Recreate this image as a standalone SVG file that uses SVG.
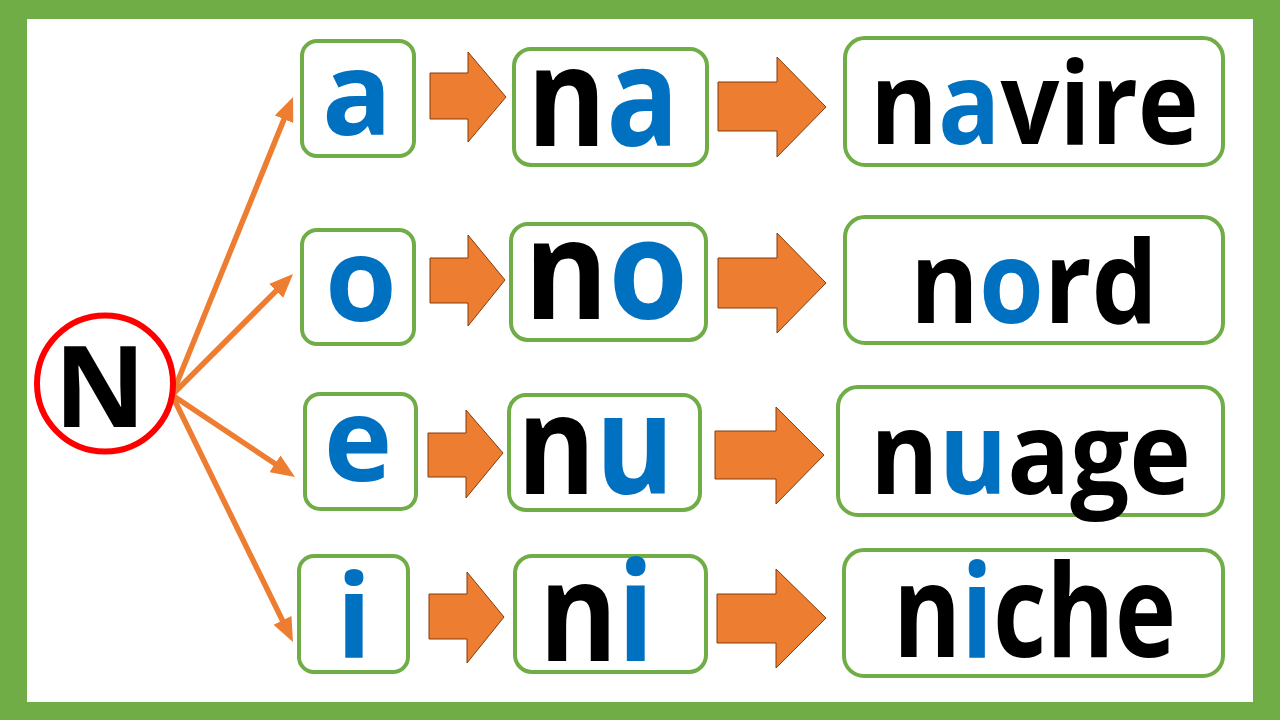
<svg xmlns="http://www.w3.org/2000/svg" width="1280" height="720" viewBox="0 0 1280 720">
  <style>
    .box { fill: #FFFFFF; stroke: #70AD47; stroke-width: 4; }
    .blk { fill: #ED7D31; stroke: #843C0C; stroke-width: 1; stroke-linejoin: miter; }
    .con { stroke: #ED7D31; stroke-width: 5.5; fill: none; }
    .t { font-family: "Open Sans", "Noto Sans", "Liberation Sans", sans-serif; font-weight: 700; fill: #000000; }
    .b { fill: #0070C0; }
  </style>
  <defs>
    <marker id="ah" viewBox="0 0 24 20" refX="9" refY="10" markerWidth="24" markerHeight="20" markerUnits="userSpaceOnUse" orient="auto">
      <path d="M0,0 L24,10 L0,20 Z" fill="#ED7D31"/>
    </marker>
  </defs>

  <rect x="0" y="0" width="1280" height="720" fill="#70AD47"/>
  <rect x="27" y="19" width="1226" height="683" fill="#FFFFFF"/>

  <g id="connectors">
    <line class="con" x1="172" y1="395" x2="287.4" y2="110.9" marker-end="url(#ah)"/>
    <line class="con" x1="172" y1="395" x2="282.4" y2="284.6" marker-end="url(#ah)"/>
    <line class="con" x1="172" y1="395" x2="282.5" y2="468.7" marker-end="url(#ah)"/>
    <line class="con" x1="172" y1="395" x2="286.4" y2="628.5" marker-end="url(#ah)"/>
    <path class="blk" d="M430,73 L468,73 L468,52 L506,97 L468,142 L468,119 L430,119 Z"/>
    <path class="blk" d="M718,82 L777,82 L777,57 L826,107 L777,157 L777,131 L718,131 Z"/>
    <path class="blk" d="M430,258 L468,258 L468,235 L505,280 L468,326 L468,303 L430,303 Z"/>
    <path class="blk" d="M718,258 L777,258 L777,233 L826,283 L777,333 L777,308 L718,308 Z"/>
    <path class="blk" d="M428,433 L466,433 L466,410 L503,453 L466,498 L466,477 L428,477 Z"/>
    <path class="blk" d="M715,431 L776,431 L776,407 L824,455 L776,504 L776,479 L715,479 Z"/>
    <path class="blk" d="M429,594 L467,594 L467,572 L504,617 L467,663 L467,639 L429,639 Z"/>
    <path class="blk" d="M717,594 L776,594 L776,569 L826,618 L776,668 L776,643 L717,643 Z"/>
  </g>

  <g id="node-N">
    <circle cx="105" cy="383.5" r="68" fill="#FFFFFF" stroke="#FF0000" stroke-width="6"/>
    <text class="t" x="100" y="427" font-size="113" text-anchor="middle">N</text>
  </g>

  <g id="node-a">
    <rect class="box" x="302" y="41" width="112" height="115" rx="15"/>
    <text class="t b" x="357" y="135" font-size="116" text-anchor="middle">a</text>
  </g>
  <g id="node-o">
    <rect class="box" x="302" y="230" width="112" height="114" rx="15"/>
    <text class="t b" x="361" y="321" font-size="116" text-anchor="middle">o</text>
  </g>
  <g id="node-e">
    <rect class="box" x="305" y="394" width="111" height="115" rx="15"/>
    <text class="t b" x="358" y="481" font-size="116" text-anchor="middle">e</text>
  </g>
  <g id="node-i">
    <rect class="box" x="299" y="556" width="109" height="116" rx="15"/>
    <text class="t b" x="354" y="658" font-size="116" text-anchor="middle">i</text>
  </g>

  <g id="node-na">
    <rect class="box" x="514" y="49" width="193" height="116" rx="17"/>
    <text class="t" x="527" y="146" font-size="138" textLength="152" lengthAdjust="spacingAndGlyphs">n<tspan class="b">a</tspan></text>
  </g>
  <g id="node-no">
    <rect class="box" x="511" y="224" width="195" height="116" rx="17"/>
    <text class="t" x="524" y="319" font-size="138" textLength="164" lengthAdjust="spacingAndGlyphs">n<tspan class="b">o</tspan></text>
  </g>
  <g id="node-nu">
    <rect class="box" x="509" y="395" width="191" height="115" rx="17"/>
    <text class="t" x="517" y="494" font-size="138" textLength="157" lengthAdjust="spacingAndGlyphs">n<tspan class="b">u</tspan></text>
  </g>
  <g id="node-ni">
    <rect class="box" x="515" y="556" width="191" height="116" rx="17"/>
    <text class="t" x="539" y="661" font-size="138" textLength="115" lengthAdjust="spacingAndGlyphs">n<tspan class="b">i</tspan></text>
  </g>

  <g id="node-navire">
    <rect class="box" x="845" y="38" width="378" height="127" rx="20"/>
    <text class="t" x="870" y="144" font-size="115" textLength="329" lengthAdjust="spacingAndGlyphs">n<tspan class="b">a</tspan>vire</text>
  </g>
  <g id="node-nord">
    <rect class="box" x="845" y="217" width="378" height="126" rx="20"/>
    <text class="t" x="910" y="323" font-size="115" textLength="248" lengthAdjust="spacingAndGlyphs">n<tspan class="b">o</tspan>rd</text>
  </g>
  <g id="node-nuage">
    <rect class="box" x="838" y="387" width="385" height="128" rx="20"/>
    <text class="t" x="870" y="494" font-size="115" textLength="321" lengthAdjust="spacingAndGlyphs">n<tspan class="b">u</tspan>age</text>
  </g>
  <g id="node-niche">
    <rect class="box" x="844" y="550" width="379" height="126" rx="20"/>
    <text class="t" x="893" y="657" font-size="130" textLength="283" lengthAdjust="spacingAndGlyphs">n<tspan class="b">i</tspan>che</text>
  </g>
</svg>
